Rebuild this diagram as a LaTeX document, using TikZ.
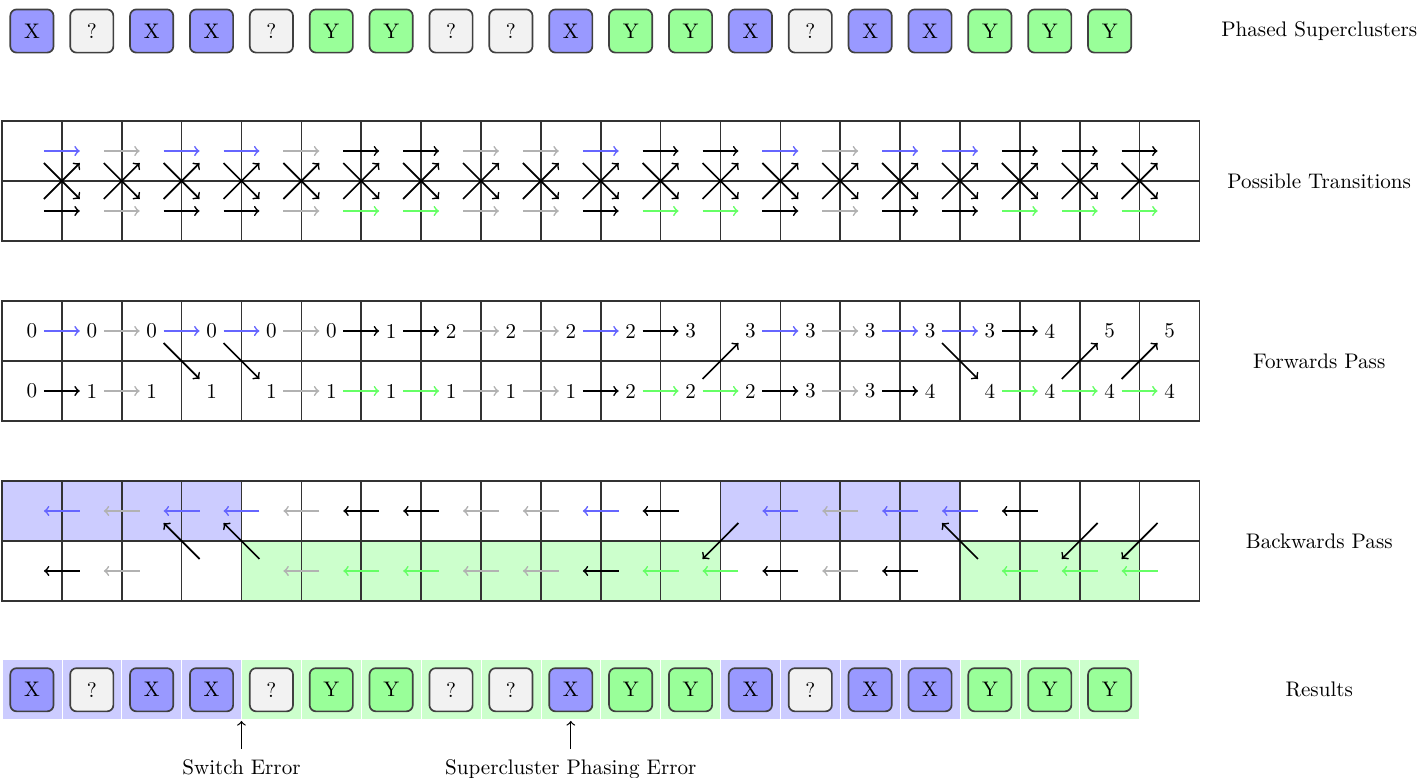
\documentclass[tikz,border=0pt]{standalone}
\begin{document}
\begin{tikzpicture}[x=0.998cm,y=-1cm,
  cell/.style={minimum size=0.4cm,inner sep=0pt,outer sep=0pt},
  sc/.style={draw=black!75,thick,rounded corners=3pt,minimum width=0.72cm,minimum height=0.72cm,inner sep=0pt},
  scX/.style={sc,fill=blue!40},
  scQ/.style={sc,fill=black!5},
  scY/.style={sc,fill=green!40},
  arr/.style={->,thick},
  ab/.style={arr,color=blue!60},
  ag/.style={arr,color=black!30},
  ak/.style={arr,color=black},
  an/.style={arr,color=green!60},
  gl/.style={draw=black!80,thick},
  lab/.style={inner sep=2pt},
  errlab/.style={anchor=base,inner sep=5pt},
  errarr/.style={->,line width=0.6pt},
  shb/.style={fill=blue!20},
  shg/.style={fill=green!20}]
\useasboundingbox (-0.033,-0.017) rectangle (23.70,12.95);

% ---------- Phased superclusters ----------
\foreach \k/\s/\t in {0/X/X,1/Q/?,2/X/X,3/X/X,4/Q/?,5/Y/Y,6/Y/Y,7/Q/?,8/Q/?,9/X/X,10/Y/Y,11/Y/Y,12/X/X,13/Q/?,14/X/X,15/X/X,16/Y/Y,17/Y/Y,18/Y/Y}
  \node[sc\s] (S\k) at (\k+0.5,0.5) {\t};

% ---------- Row labels ----------
\node[lab] (L1) at (22.0,0.5) {Phased Superclusters};
\node[lab] (L2) at (22.0,3) {Possible Transitions};
\node[lab] (L3) at (22.0,6) {Forwards Pass};
\node[lab] (L4) at (22.0,9) {Backwards Pass};
\node[lab] (L5) at (22.0,11.48) {Results};

% ---------- Backwards shading ----------
\path[shb] (0,8) rectangle (4,9);
\path[shb] (12,8) rectangle (16,9);
\path[shg] (4,9) rectangle (12,10);
\path[shg] (16,9) rectangle (19,10);

% ---------- Grids ----------
\foreach \y in {2,5,8} {
  \draw[gl] (0,\y) rectangle (20,\y+2);
  \draw[gl] (0,\y+1) -- (20,\y+1);
  \foreach \i in {1,...,19} \draw[gl] (\i,\y) -- (\i,\y+2);
}

% ---------- Cell anchors ----------
\foreach \k in {0,...,19} {
  \node[cell] (Tt\k) at (\k+0.5,2.5) {};
  \node[cell] (Tb\k) at (\k+0.5,3.5) {};
  \node[cell] (Bt\k) at (\k+0.5,8.5) {};
  \node[cell] (Bb\k) at (\k+0.5,9.5) {};
}

% ---------- Possible transitions ----------
\foreach \p/\i/\t/\b in {0/1/ab/ak,1/2/ag/ag,2/3/ab/ak,3/4/ab/ak,4/5/ag/ag,5/6/ak/an,6/7/ak/an,7/8/ag/ag,8/9/ag/ag,9/10/ab/ak,10/11/ak/an,11/12/ak/an,12/13/ab/ak,13/14/ag/ag,14/15/ab/ak,15/16/ab/ak,16/17/ak/an,17/18/ak/an,18/19/ak/an} {
  \draw[\t] (Tt\p) -- (Tt\i);
  \draw[\b] (Tb\p) -- (Tb\i);
  \draw[ak] (Tt\p) -- (Tb\i);
  \draw[ak] (Tb\p) -- (Tt\i);
}

% ---------- Forwards pass ----------
\foreach \k/\v in {0/0,1/0,2/0,3/0,4/0,5/0,6/1,7/2,8/2,9/2,10/2,11/3,12/3,13/3,14/3,15/3,16/3,17/4,18/5,19/5}
  \node[cell] (Ft\k) at (\k+0.5,5.5) {\v};
\foreach \k/\v in {0/0,1/1,2/1,3/1,4/1,5/1,6/1,7/1,8/1,9/1,10/2,11/2,12/2,13/3,14/3,15/4,16/4,17/4,18/4,19/4}
  \node[cell] (Fb\k) at (\k+0.5,6.5) {\v};

\foreach \p/\i/\s in {0/1/ab,1/2/ag,2/3/ab,3/4/ab,4/5/ag,5/6/ak,6/7/ak,7/8/ag,8/9/ag,9/10/ab,10/11/ak,12/13/ab,13/14/ag,14/15/ab,15/16/ab,16/17/ak} {
  \draw[\s] (Ft\p) -- (Ft\i);
  \draw[\s] (Bt\i) -- (Bt\p);
}
\foreach \p/\i/\s in {0/1/ak,1/2/ag,4/5/ag,5/6/an,6/7/an,7/8/ag,8/9/ag,9/10/ak,10/11/an,11/12/an,12/13/ak,13/14/ag,14/15/ak,16/17/an,17/18/an,18/19/an} {
  \draw[\s] (Fb\p) -- (Fb\i);
  \draw[\s] (Bb\i) -- (Bb\p);
}
% diagonals top -> bottom
\foreach \p/\i in {2/3,3/4,15/16} {
  \draw[ak] (Ft\p) -- (Fb\i);
  \draw[ak] (Bb\i) -- (Bt\p);
}
% diagonals bottom -> top
\foreach \p/\i in {11/12,17/18,18/19} {
  \draw[ak] (Fb\p) -- (Ft\i);
  \draw[ak] (Bt\i) -- (Bb\p);
}

% ---------- Results ----------
\foreach \k in {0,1,2,3,12,13,14,15}
  \path[shb,draw=white,line width=0.3pt] (\k,10.98) rectangle (\k+1,11.98);
\foreach \k in {4,5,6,7,8,9,10,11,16,17,18}
  \path[shg,draw=white,line width=0.3pt] (\k,10.98) rectangle (\k+1,11.98);
\foreach \k/\s/\t in {0/X/X,1/Q/?,2/X/X,3/X/X,4/Q/?,5/Y/Y,6/Y/Y,7/Q/?,8/Q/?,9/X/X,10/Y/Y,11/Y/Y,12/X/X,13/Q/?,14/X/X,15/X/X,16/Y/Y,17/Y/Y,18/Y/Y}
  \node[sc\s] (R\k) at (\k+0.5,11.48) {\t};

\coordinate (E1) at (4,12.0);
\coordinate (E2) at (9.5,12.0);
\node[errlab] (SE) at (4,12.9) {Switch Error};
\node[errlab] (PE) at (9.5,12.9) {Supercluster Phasing Error};
\draw[errarr] (SE.north) -- (E1);
\draw[errarr] (PE.north) -- (E2);
\end{tikzpicture}
\end{document}
